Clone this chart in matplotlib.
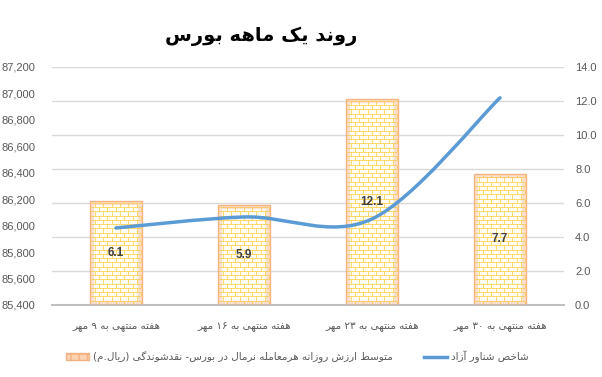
import re
import matplotlib
matplotlib.use("Agg")
import matplotlib.pyplot as plt
import numpy as np
from matplotlib.path import Path
from matplotlib.patches import PathPatch, Rectangle
from matplotlib.collections import LineCollection
from matplotlib.lines import Line2D
from matplotlib.ticker import FuncFormatter, MultipleLocator

# data
weeks = ["هفته منتهی به ۹ مهر", "هفته منتهی به ۱۶ مهر",
         "هفته منتهی به ۲۳ مهر", "هفته منتهی به ۳۰ مهر"]
trade_value = [6.1, 5.9, 12.1, 7.7]          # right axis
float_index = [85982, 86065, 86050, 86965]   # left axis
title = "روند یک ماهه بورس"
bar_name = "متوسط ارزش روزانه هرمعامله نرمال در بورس- نقدشوندگی (ریال.م)"
line_name = "شاخص شناور آزاد"

# Arabic presentation forms: isolated, final, initial, medial
FORMS = {
    'ا': (0xFE8D, 0xFE8E), 'آ': (0xFE81, 0xFE82),
    'د': (0xFEA9, 0xFEAA), 'ر': (0xFEAD, 0xFEAE),
    'ز': (0xFEAF, 0xFEB0), 'و': (0xFEED, 0xFEEE),
    'ب': (0xFE8F, 0xFE90, 0xFE91, 0xFE92), 'ت': (0xFE95, 0xFE96, 0xFE97, 0xFE98),
    'خ': (0xFEA5, 0xFEA6, 0xFEA7, 0xFEA8), 'س': (0xFEB1, 0xFEB2, 0xFEB3, 0xFEB4),
    'ش': (0xFEB5, 0xFEB6, 0xFEB7, 0xFEB8), 'ص': (0xFEB9, 0xFEBA, 0xFEBB, 0xFEBC),
    'ط': (0xFEC1, 0xFEC2, 0xFEC3, 0xFEC4), 'ع': (0xFEC9, 0xFECA, 0xFECB, 0xFECC),
    'ف': (0xFED1, 0xFED2, 0xFED3, 0xFED4), 'ق': (0xFED5, 0xFED6, 0xFED7, 0xFED8),
    'ل': (0xFEDD, 0xFEDE, 0xFEDF, 0xFEE0), 'م': (0xFEE1, 0xFEE2, 0xFEE3, 0xFEE4),
    'ن': (0xFEE5, 0xFEE6, 0xFEE7, 0xFEE8), 'ه': (0xFEE9, 0xFEEA, 0xFEEB, 0xFEEC),
    'ی': (0xFBFC, 0xFBFD, 0xFBFE, 0xFBFF), 'ک': (0xFB8E, 0xFB8F, 0xFB90, 0xFB91),
    'گ': (0xFB92, 0xFB93, 0xFB94, 0xFB95),
}


def fa(text):
    # shape the letters and put them in visual (left to right) order
    out = []
    for i, c in enumerate(text):
        if c not in FORMS:
            out.append(c)
            continue
        prev = text[i - 1] if i > 0 else ''
        nxt = text[i + 1] if i + 1 < len(text) else ''
        a = prev in FORMS and len(FORMS[prev]) == 4
        b = len(FORMS[c]) == 4 and nxt in FORMS
        k = 3 if (a and b) else 1 if a else 2 if b else 0
        out.append(chr(FORMS[c][k]))
    s = ''.join(out)[::-1].translate(str.maketrans('()', ')('))
    return re.sub(r'[0-9۰-۹]+', lambda m: m.group(0)[::-1], s)


def bricks(ax, bar, row_h=0.25, brick_w=0.066, color='#FFD966'):
    # brick pattern inside one bar
    x0, y0 = bar.get_x(), bar.get_y()
    w, h = bar.get_width(), bar.get_height()
    segs = []
    for r, y in enumerate(np.arange(y0 + row_h, y0 + h, row_h)):
        segs.append([(x0, y), (x0 + w, y)])
        y_top = min(y + row_h, y0 + h)
        off = (r % 2) * brick_w / 2
        for xv in np.arange(x0 + brick_w / 2 + off, x0 + w, brick_w):
            segs.append([(xv, y), (xv, y_top)])
    for xv in np.arange(x0 + brick_w / 2 + brick_w / 2, x0 + w, brick_w):
        segs.append([(xv, y0), (xv, y0 + row_h)])
    ax.add_collection(LineCollection(segs, colors=color, linewidths=0.7, zorder=2))


AR = ['DejaVu Sans']
NUM = 'Liberation Sans'
GREY = '#595959'

fig = plt.figure(figsize=(6.02, 3.77), dpi=100)
ax = fig.add_axes([52 / 602, 1 - 305 / 377, 512 / 602, (305 - 66.7) / 377])
ax2 = ax.twinx()

x = np.arange(len(weeks))
bars = ax.bar(x, trade_value, width=0.4, color='#FFFCF5', edgecolor='#F4B183',
              linewidth=1, zorder=1)
for b in bars:
    bricks(ax, b)
    glow = Rectangle((b.get_x(), b.get_y()), b.get_width(), b.get_height(),
                     fill=False, edgecolor='#F4B183', linewidth=6, alpha=0.35, zorder=3)
    ax.add_patch(glow)
    glow.set_clip_path(b)
ax.bar_label(bars, labels=[f"{v:.1f}" for v in trade_value], label_type='center',
             fontsize=8.5, fontweight='bold', color='#404040', family=NUM, zorder=5)

ax.set_xlim(-0.5, len(weeks) - 0.5)
ax.set_ylim(0, 14)
ax.yaxis.set_major_locator(MultipleLocator(2))
ax.yaxis.set_major_formatter(FuncFormatter(lambda v, p: f"{v:.1f}"))
ax.yaxis.tick_right()
ax.yaxis.grid(True, color='#D9D9D9', linewidth=1)
ax.set_axisbelow(True)
ax.set_xticks(x)
ax.set_xticklabels([fa(w) for w in weeks], family=AR, fontsize=7.5, color=GREY)
ax.tick_params(axis='x', length=0, pad=12)
ax.tick_params(axis='y', length=0, pad=8, labelsize=8, labelcolor=GREY)
for lab in ax.get_yticklabels():
    lab.set_family(NUM)
for s in ['left', 'right', 'top']:
    ax.spines[s].set_visible(False)
ax.spines['bottom'].set_color('#BFBFBF')
ax.spines['bottom'].set_linewidth(1.5)

# smoothed line (cubic bezier through the points)
pts = np.column_stack([x, float_index]).astype(float)
ext = np.vstack([pts[0], pts, pts[-1]])
verts, codes = [pts[0]], [Path.MOVETO]
for i in range(len(pts) - 1):
    p0, p1, p2, p3 = ext[i], ext[i + 1], ext[i + 2], ext[i + 3]
    verts += [p1 + (p2 - p0) / 6, p2 - (p3 - p1) / 6, p2]
    codes += [Path.CURVE4] * 3
ax2.add_patch(PathPatch(Path(verts, codes), facecolor='none', edgecolor='#5B9BD5',
                        linewidth=2.5, capstyle='round', zorder=4))
ax2.set_ylim(85400, 87200)
ax2.yaxis.set_major_locator(MultipleLocator(200))
ax2.yaxis.set_major_formatter(FuncFormatter(lambda v, p: f"{v:,.0f}"))
ax2.yaxis.tick_left()
ax2.tick_params(axis='y', length=0, pad=12, labelsize=8, labelcolor=GREY)
for lab in ax2.get_yticklabels():
    lab.set_family(NUM)
for s in ax2.spines.values():
    s.set_visible(False)

fig.text(261 / 602, 1 - 36 / 377, fa(title), ha='center', va='center',
         family=AR, fontsize=14, fontweight='bold', color='black')

handles = [Rectangle((0, 0), 1, 1, facecolor='#FBD3B0', edgecolor='#F4B183', hatch='++'),
           Line2D([], [], color='#5B9BD5', linewidth=2.5)]
fig.legend(handles, [fa(bar_name), fa(line_name)], loc='center',
           bbox_to_anchor=(297 / 602, 1 - 357 / 377), ncol=2, frameon=False,
           prop={'family': AR, 'size': 7.5}, labelcolor=GREY, handlelength=2.2,
           handletextpad=0.4, columnspacing=3)

fig.savefig('out.png', dpi=100)
